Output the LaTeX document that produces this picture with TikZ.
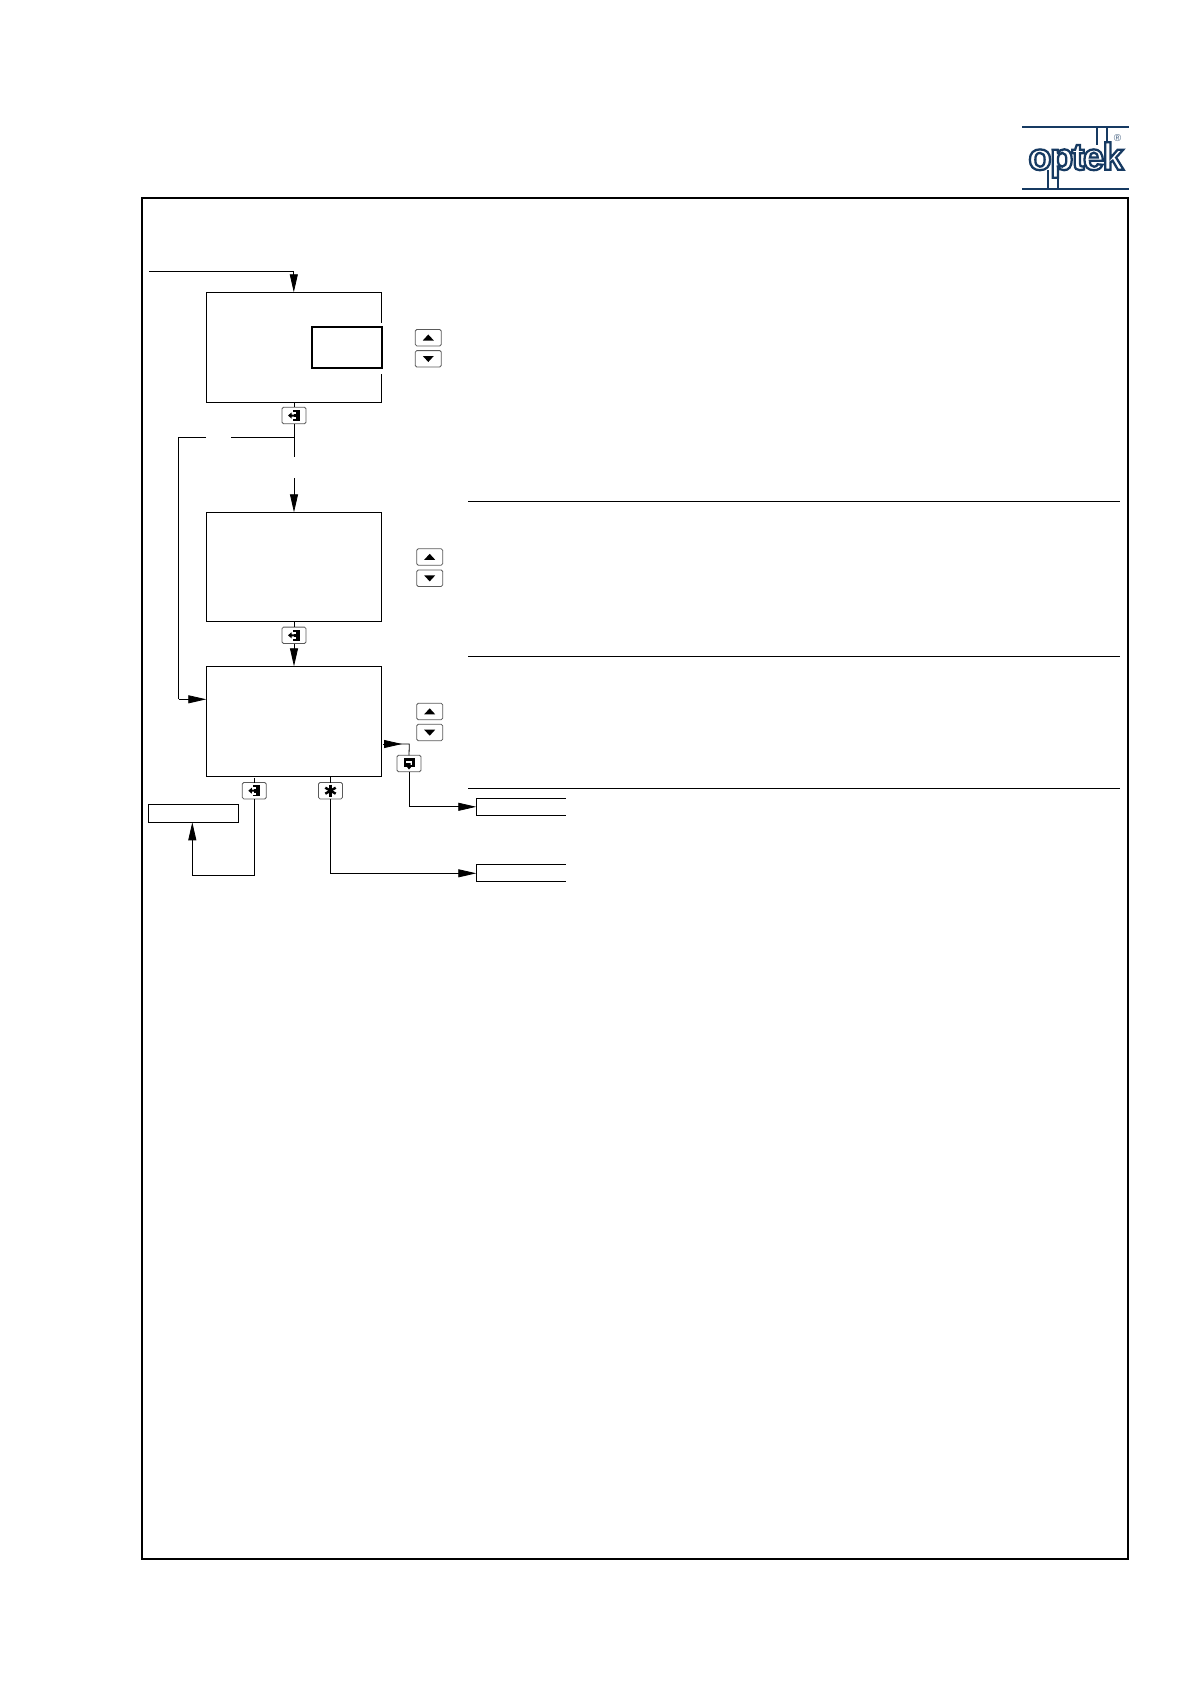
\documentclass[tikz,border=0pt]{standalone}
\usepackage{fontspec}
\newfontfamily\logofont{Liberation Sans}
\definecolor{OptekBlue}{RGB}{22,58,98}
\definecolor{KeyGray}{RGB}{90,90,90}
\newcommand{\outlinetext}[1]{\textcolor{white}{\special{pdf:code 0.086 0.227 0.384 RG}#1}}
\usetikzlibrary{arrows.meta,positioning,calc}
\tikzset{
  flow/.style={line width=0.8pt,-{Triangle[length=18pt,width=8pt]}},
  wire/.style={line width=0.8pt},
  statebox/.style={draw,line width=0.8pt,inner sep=0pt,outer sep=0pt,minimum width=175pt,minimum height=110pt},
  openbox/.style={inner sep=0pt,outer sep=0pt,minimum width=89.4pt,minimum height=17pt},
  keybox/.style={draw=KeyGray,fill=white,line width=0.8pt,rounded corners=1.5pt,inner sep=0pt,outer sep=0pt,minimum width=24pt,minimum height=16.4pt},
  upkey/.style={keybox,minimum width=26pt,path picture={
    \fill[black,sharp corners,shift={(path picture bounding box.center)}] (-5.5,2.8) -- (5.5,2.8) -- (0,-3.2) -- cycle;}},
  downkey/.style={keybox,minimum width=26pt,path picture={
    \fill[black,sharp corners,shift={(path picture bounding box.center)}] (-5.5,-2.8) -- (5.5,-2.8) -- (0,3.2) -- cycle;}},
  enterkey/.style={keybox,path picture={
    \begin{scope}[sharp corners,shift={(path picture bounding box.center)}]
    \fill[black] (-1.5,-5.5) rectangle (5.5,5.5);
    \fill[white] (-1.5,-3.8) rectangle (2,-1.8);
    \fill[white] (-1.5,1.8) rectangle (2,3.8);
    \fill[white] (-1.5,-1.8) rectangle (-0.5,1.8);
    \fill[black] (-6,0) -- (-2.5,-3) -- (-2.5,-1) -- (1,-1) -- (1,1) -- (-2.5,1) -- (-2.5,3) -- cycle;
    \end{scope}}},
  returnkey/.style={keybox,path picture={
    \begin{scope}[sharp corners,shift={(path picture bounding box.center)}]
    \fill[black] (-5.5,-5.5) rectangle (5.5,3.5);
    \fill[white] (-3,-3) rectangle (3,1.5);
    \fill[black] (-3,-0.5) -- (1.5,-0.5) -- (1.5,2) -- (3.5,2) -- (0,6) -- (-3,2) -- cycle;
    \end{scope}}},
  starkey/.style={keybox,path picture={
    \begin{scope}[sharp corners,shift={(path picture bounding box.center)},draw=black,line width=2.4pt]
    \draw (0,-6) -- (0,6);
    \draw (-5.2,-3) -- (5.2,3);
    \draw (-5.2,3) -- (5.2,-3);
    \end{scope}}},
}
\begin{document}
\begin{tikzpicture}[x=1pt,y=-1pt]
\useasboundingbox (0,0) rectangle (1190,1684);
% frame
\node[draw,line width=2pt,inner sep=0pt,minimum width=986pt,minimum height=1361pt] (frame) at (634.7,878.5) {};
% logo
\coordinate (logoTL) at (1022,127.3);
\coordinate (logoTR) at (1129.3,127.3);
\coordinate (logoBL) at (1022,189.3);
\coordinate (logoBR) at (1129.3,189.3);
\draw[OptekBlue,line width=1.7pt] (logoTL) -- (logoTR);
\draw[OptekBlue,line width=1.7pt] (logoBL) -- (logoBR);
\draw[OptekBlue,line width=1.7pt] (1097.3,127.3) -- (1097.3,145);
\draw[OptekBlue,line width=1.7pt] (1106.7,127.3) -- (1106.7,150);
\draw[OptekBlue,line width=1.7pt] (1047.7,189.3) -- (1047.7,170);
\draw[OptekBlue,line width=1.7pt] (1058,189.3) -- (1058,170);
\node[inner sep=0pt] (logo) at (1076,160) {\logofont\bfseries\fontsize{38}{38}\selectfont\addfontfeature{LetterSpace=-4,FakeBold=6}\outlinetext{optek}};
\node[inner sep=0pt,text=OptekBlue!80] (regmark) at (1117.5,138) {\logofont\fontsize{10}{10}\selectfont ®};
% state boxes
\node[statebox] (boxA) at (293.8,347.3) {};
\node[statebox,minimum height=109pt] (boxB) at (293.8,566.8) {};
\node[statebox] (boxC) at (293.8,721.3) {};
% gap on the right of boxA
\fill[white] (378,323.3) rectangle (385,374);
\node[draw,line width=1.8pt,inner sep=0pt,outer sep=0pt,minimum width=70pt,minimum height=41.3pt] (valueA) at (347,347.3) {};
% keys
\node[upkey] (upA) at (428.3,337.7) {};
\node[downkey] (downA) at (428.3,358.8) {};
\node[upkey] (upB) at (429.7,557) {};
\node[downkey] (downB) at (429.7,578.2) {};
\node[upkey] (upC) at (429.7,711.5) {};
\node[downkey] (downC) at (429.7,732.5) {};
\node[enterkey] (enterA) at (294,415.5) {};
\node[enterkey] (enterB) at (294,635.3) {};
\node[enterkey] (enterC) at (254.3,790.7) {};
\node[starkey] (starC) at (330.5,790.7) {};
\node[returnkey] (returnC) at (409,763.5) {};
% small boxes
\node[draw,line width=0.8pt,inner sep=0pt,outer sep=0pt,minimum width=90.4pt,minimum height=18pt] (backbox) at (193.5,813.3) {};
\node[openbox] (exitA) at (521,806.8) {};
\node[openbox] (exitB) at (521,873.3) {};
\draw[wire] (exitA.north east) -- (exitA.north west) -- (exitA.south west) -- (exitA.south east);
\draw[wire] (exitB.north east) -- (exitB.north west) -- (exitB.south west) -- (exitB.south east);
% rules
\coordinate (ruleAl) at (468,501.6);
\coordinate (ruleAr) at (1120,501.6);
\coordinate (ruleBl) at (468,656.2);
\coordinate (ruleBr) at (1120,656.2);
\coordinate (ruleCl) at (468,788.3);
\coordinate (ruleCr) at (1120,788.3);
\draw[wire] (ruleAl) -- (ruleAr);
\draw[wire] (ruleBl) -- (ruleBr);
\draw[wire] (ruleCl) -- (ruleCr);
% entry into boxA
\coordinate (entry) at (149,271.3);
\draw[flow] (entry) -| (boxA.north);
% boxA to boxB
\coordinate (forkA) at (294,437.3);
\coordinate (gapAt) at (294,457.3);
\coordinate (gapAb) at (294,478);
\draw[wire] (boxA.south -| enterA) -- (enterA.north);
\draw[wire] (enterA.south) -- (gapAt);
\draw[flow] (gapAb) -- (boxB.north -| gapAb);
% branch round boxB
\coordinate (forkBl) at (231,437.3);
\coordinate (forkBr) at (206,437.3);
\coordinate (forkC) at (178.7,699.3);
\draw[wire] (forkA) -- (forkBl);
\draw[wire] (forkBr) -| (forkC);
\draw[flow] (forkC) -- (forkC -| boxC.west);
% boxB to boxC
\draw[wire] (boxB.south -| enterB) -- (enterB.north);
\draw[flow] (enterB.south) -- (boxC.north -| enterB);
% enter back to small box
\coordinate (backT) at (254.3,778);
\coordinate (backB) at (254.3,875.3);
\coordinate (backU) at (192.3,875.3);
\draw[wire] (backT) -- (enterC.north);
\draw[wire] (enterC.south) -- (backB) -- (backU);
\draw[flow] (backU) -- (backU |- backbox.south);
% star to lower exit
\draw[wire] (boxC.south -| starC) -- (starC.north);
\draw[flow] (starC.south) |- (exitB.west);
% return to upper exit
\coordinate (turnC) at (409.3,744);
\coordinate (tailC) at (383,744);
\draw[flow] (tailC) -- (402,744);
\draw[wire] (398,744) -- (turnC) -- (returnC.north);
\draw[flow] (returnC.south) |- (exitA.west);
\end{tikzpicture}
\end{document}
